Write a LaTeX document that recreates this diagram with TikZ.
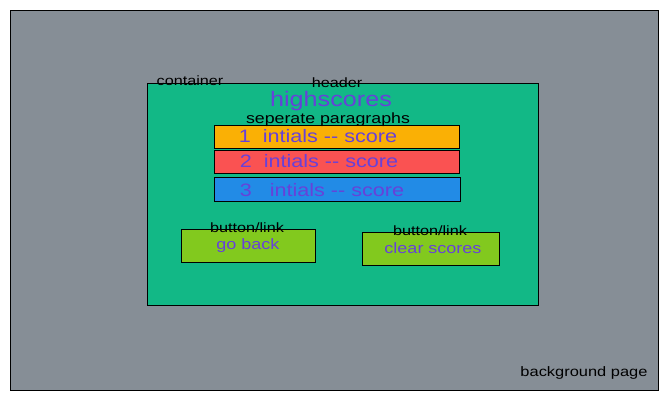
\documentclass[tikz,border=0pt]{standalone}
\usepackage{fontspec}
\setmainfont{Liberation Sans}[FakeStretch=1.2]
\definecolor{bgpage}{HTML}{868E96}
\definecolor{cont}{HTML}{12B886}
\definecolor{rowA}{HTML}{FAB005}
\definecolor{rowB}{HTML}{FA5252}
\definecolor{rowC}{HTML}{228BE6}
\definecolor{btn}{HTML}{82C91E}
\definecolor{ink}{HTML}{6741D9}
\tikzset{
  box/.style={draw=black, line width=1.2pt, anchor=north west, inner sep=0pt},
  lbl/.style={text=black, font=\fontsize{13.5}{14}\selectfont, inner sep=0pt},
  itxt/.style={text=ink, font=\fontsize{18}{19}\selectfont, inner sep=0pt},
}
\begin{document}
\begin{tikzpicture}[x=1pt,y=-1pt]
\useasboundingbox (0,0) rectangle (667,400);
\node[box, fill=bgpage, minimum width=648pt, minimum height=380pt] (page) at (10,10) {};
\node[box, fill=cont, minimum width=391pt, minimum height=222pt] (container) at (147,83) {};
\node[box, fill=rowA, minimum width=245pt, minimum height=23pt] (r1) at (214,125) {};
\node[box, fill=rowB, minimum width=245pt, minimum height=23pt] (r2) at (214,150) {};
\node[box, fill=rowC, minimum width=246pt, minimum height=24pt] (r3) at (214,177) {};
\node[box, fill=btn, minimum width=134pt, minimum height=33pt] (b1) at (181,229) {};
\node[box, fill=btn, minimum width=137pt, minimum height=33pt] (b2) at (362,232) {};
\node[lbl] (lcont) at (190,81) {container};
\node[lbl] (lhead) at (337,83) {header};
\node[itxt, font=\fontsize{21}{22}\selectfont] (hs) at (331,101) {highscores};
\node[lbl, font=\fontsize{14.8}{15}\selectfont] (lsep) at (328,120) {seperate paragraphs};
\node[itxt] (t1) at (318,136) {1\ \ intials {-}{-} score};
\node[itxt] (t2) at (319,161) {2\ \ intials {-}{-} score};
\node[itxt] (t3) at (322,190) {3\ \ \ intials {-}{-} score};
\node[lbl] (lb1) at (247,228) {button/link};
\node[itxt, font=\fontsize{15}{16}\selectfont] (g1) at (248,246) {go back};
\node[lbl] (lb2) at (430,231) {button/link};
\node[itxt, font=\fontsize{15}{16}\selectfont] (g2) at (433,248) {clear scores};
\node[lbl, font=\fontsize{13.7}{14}\selectfont] (lpage) at (584,373) {background page};
\end{tikzpicture}
\end{document}
